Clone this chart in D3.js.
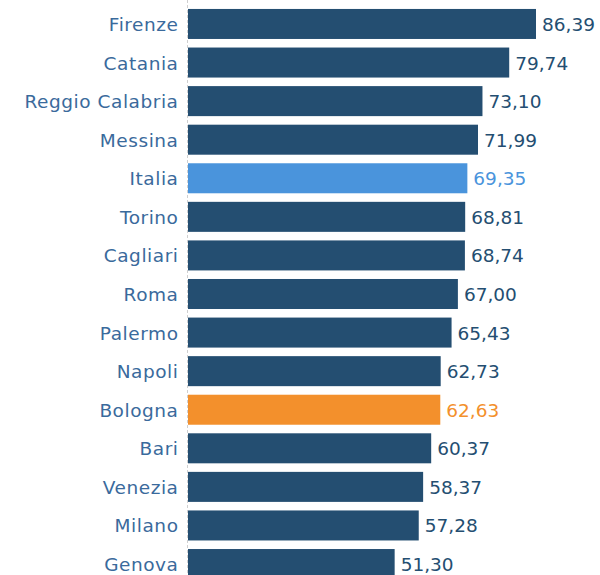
<!DOCTYPE html>
<html>
<head>
<meta charset="utf-8">
<script src="https://cdn.jsdelivr.net/npm/d3@7"></script>
<style>
  body { margin: 0; background: #fff; }
  text { font-family: "DejaVu Sans", sans-serif; }
</style>
</head>
<body>
<div id="chart"></div>
<script>
var cities = ["Firenze", "Catania", "Reggio Calabria", "Messina", "Italia", "Torino", "Cagliari",
    "Roma", "Palermo", "Napoli", "Bologna", "Bari", "Venezia", "Milano", "Genova"];
var values = [86.39, 79.74, 73.10, 71.99, 69.35, 68.81, 68.74, 67.00, 65.43, 62.73, 62.63, 60.37, 58.37, 57.28, 51.30];
var highlight = { "Italia": "#4a94dc", "Bologna": "#f3902c" };

var width = 600, height = 575;
var left = 188;

var svg = d3.select("#chart").append("svg")
    .attr("width", width)
    .attr("height", height);

var x = d3.scaleLinear()
    .domain([0, 86.39])
    .range([left, 536]);

var y = d3.scaleBand()
    .domain(cities)
    .range([5.1, 582.9])
    .paddingInner(0.222)
    .paddingOuter(0.1);

var fmt = function(v) { return d3.format(".2f")(v).replace(".", ","); };

// zero line
svg.append("line")
    .attr("x1", left - 0.5).attr("x2", left - 0.5)
    .attr("y1", 0).attr("y2", height)
    .attr("stroke", "#cfcfcf")
    .attr("stroke-dasharray", "3,2");

var row = svg.selectAll(".row")
    .data(cities)
    .enter().append("g")
    .attr("class", "row");

row.append("rect")
    .attr("x", x(0))
    .attr("y", function(d) { return y(d); })
    .attr("height", y.bandwidth())
    .attr("width", function(d, i) { return x(values[i]) - x(0); })
    .attr("fill", function(d) { return highlight[d] || "#244e71"; });

row.append("text")
    .attr("x", 178.5)
    .attr("y", function(d) { return y(d) + y.bandwidth() / 2; })
    .attr("dy", "0.38em")
    .attr("text-anchor", "end")
    .style("font-size", "18.5px")
    .style("letter-spacing", "0.55px")
    .attr("fill", "#3a6a9c")
    .text(function(d) { return d; });

row.append("text")
    .attr("x", function(d, i) { return x(values[i]) + 6; })
    .attr("y", function(d) { return y(d) + y.bandwidth() / 2; })
    .attr("dy", "0.38em")
    .style("font-size", "18.5px")
    .attr("fill", function(d) { return highlight[d] || "#244e71"; })
    .text(function(d, i) { return fmt(values[i]); });
</script>
</body>
</html>
